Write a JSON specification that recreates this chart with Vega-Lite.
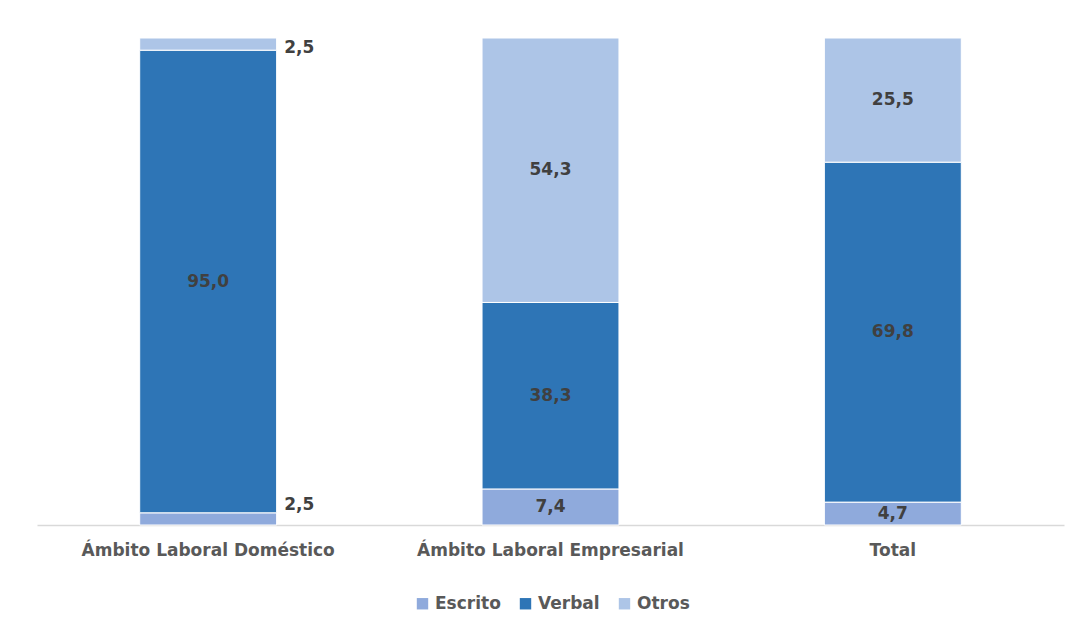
{
  "$schema": "https://vega.github.io/schema/vega-lite/v6.json",
  "width": 1027,
  "height": 487,
  "autosize": {"type": "none"},
  "padding": {"left": 37, "top": 38, "right": 19, "bottom": 109},
  "background": "white",
  "config": {
    "view": {"stroke": null},
    "locale": {"number": {"decimal": ",", "thousands": ".", "grouping": [3], "currency": ["", " €"]}},
    "font": "DejaVu Sans"
  },
  "data": {
    "values": [
      {"ambito": "Ámbito Laboral Doméstico", "tipo": "Escrito", "orden": 1, "valor": 2.5},
      {"ambito": "Ámbito Laboral Doméstico", "tipo": "Verbal", "orden": 2, "valor": 95.0},
      {"ambito": "Ámbito Laboral Doméstico", "tipo": "Otros", "orden": 3, "valor": 2.5},
      {"ambito": "Ámbito Laboral Empresarial", "tipo": "Escrito", "orden": 1, "valor": 7.4},
      {"ambito": "Ámbito Laboral Empresarial", "tipo": "Verbal", "orden": 2, "valor": 38.3},
      {"ambito": "Ámbito Laboral Empresarial", "tipo": "Otros", "orden": 3, "valor": 54.3},
      {"ambito": "Total", "tipo": "Escrito", "orden": 1, "valor": 4.7},
      {"ambito": "Total", "tipo": "Verbal", "orden": 2, "valor": 69.8},
      {"ambito": "Total", "tipo": "Otros", "orden": 3, "valor": 25.5}
    ]
  },
  "transform": [
    {"stack": "valor", "groupby": ["ambito"], "sort": [{"field": "orden", "order": "ascending"}], "as": ["y0", "y1"]},
    {"calculate": "(datum.y0 + datum.y1) / 2", "as": "ymid"}
  ],
  "encoding": {
    "x": {
      "field": "ambito",
      "type": "nominal",
      "sort": null,
      "scale": {"paddingInner": 0.6, "paddingOuter": 0.3},
      "axis": {
        "title": null,
        "labelAngle": 0,
        "labelLimit": 0,
        "ticks": false,
        "grid": false,
        "domainColor": "#d9d9d9",
        "domainWidth": 1.5,
        "labelFont": "DejaVu Sans",
        "labelFontSize": 17,
        "labelFontWeight": "bold",
        "labelColor": "#595959",
        "labelPadding": 17
      }
    }
  },
  "layer": [
    {
      "mark": {"type": "bar", "stroke": "white", "strokeWidth": 1},
      "encoding": {
        "y": {"field": "y0", "type": "quantitative", "scale": {"domain": [0, 100]}, "axis": null},
        "y2": {"field": "y1"},
        "color": {
          "field": "tipo",
          "type": "nominal",
          "scale": {"domain": ["Escrito", "Verbal", "Otros"], "range": ["#8faadc", "#2e75b6", "#adc5e7"]},
          "legend": {
            "title": null,
            "orient": "none",
            "legendX": 377,
            "legendY": 557,
            "direction": "horizontal",
            "symbolType": "square",
            "symbolSize": 130,
            "symbolStrokeWidth": 0,
            "labelFont": "DejaVu Sans",
            "labelFontSize": 17,
            "labelFontWeight": "bold",
            "labelColor": "#595959",
            "columnPadding": 16
          }
        }
      }
    },
    {
      "transform": [{"filter": "!(datum.ambito == 'Ámbito Laboral Doméstico' && datum.tipo != 'Verbal')"}],
      "mark": {"type": "text", "align": "center", "baseline": "middle", "fontSize": 17, "fontWeight": "bold", "color": "#404040"},
      "encoding": {
        "y": {"field": "ymid", "type": "quantitative", "scale": {"domain": [0, 100]}},
        "text": {"field": "valor", "type": "quantitative", "format": ".1f"}
      }
    },
    {
      "transform": [{"filter": "datum.ambito == 'Ámbito Laboral Doméstico' && datum.tipo == 'Otros'"}],
      "mark": {"type": "text", "align": "left", "baseline": "middle", "dx": 76, "dy": 4, "fontSize": 17, "fontWeight": "bold", "color": "#404040"},
      "encoding": {
        "y": {"field": "ymid", "type": "quantitative", "scale": {"domain": [0, 100]}},
        "text": {"field": "valor", "type": "quantitative", "format": ".1f"}
      }
    },
    {
      "transform": [{"filter": "datum.ambito == 'Ámbito Laboral Doméstico' && datum.tipo == 'Escrito'"}],
      "mark": {"type": "text", "align": "left", "baseline": "middle", "dx": 76, "dy": -14, "fontSize": 17, "fontWeight": "bold", "color": "#404040"},
      "encoding": {
        "y": {"field": "ymid", "type": "quantitative", "scale": {"domain": [0, 100]}},
        "text": {"field": "valor", "type": "quantitative", "format": ".1f"}
      }
    }
  ]
}
